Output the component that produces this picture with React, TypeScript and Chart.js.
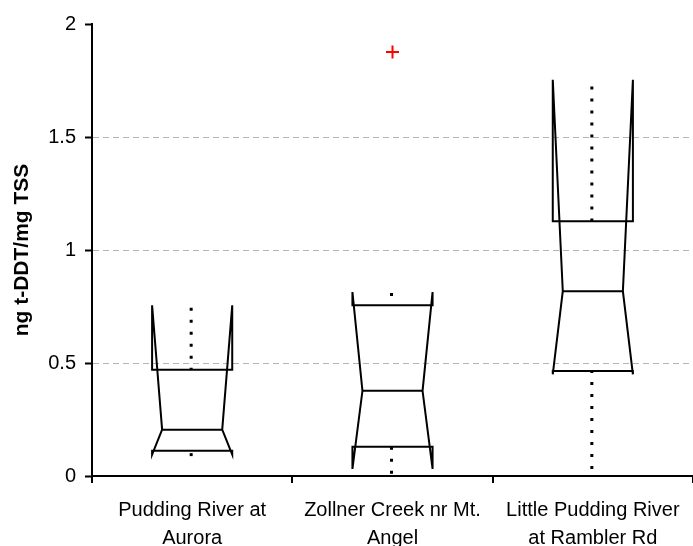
import React, { useEffect, useRef } from "react";
import { Chart, registerables } from "chart.js";

Chart.register(...registerables);

const categories: string[][] = [
  ["Pudding River at", "Aurora"],
  ["Zollner Creek nr Mt.", "Angel"],
  ["Little Pudding River", "at Rambler Rd"],
];
const whiskerLow = [0.088, 0.01, 0.031];
const q1 = [0.112, 0.129, 0.465];
const median = [0.205, 0.377, 0.818];
const q3 = [0.47, 0.756, 1.127];
const whiskerHigh = [0.745, 0.81, 1.723];
const notchLow = [0.095, 0.031, 0.45];
const notchHigh = [0.755, 0.814, 1.753];
const outliers = [null, 1.876, null];
const yTicks = [0, 0.5, 1, 1.5, 2];
const yTitle = "ng t-DDT/mg TSS";

const FONT = "'Liberation Sans', Arial, sans-serif";

const boxPlugin = {
  id: "notchedBoxes",
  beforeDatasetsDraw(chart: any) {
    const ctx = chart.ctx;
    const xs = chart.scales.x;
    const ys = chart.scales.y;
    const cw = xs.getPixelForValue(1) - xs.getPixelForValue(0);
    const hw = cw * 0.2;
    const nw = cw * 0.15;
    const Y = (v: number) => ys.getPixelForValue(v);
    ctx.save();
    for (let i = 0; i < categories.length; i++) {
      const cx = xs.getPixelForValue(i);
      ctx.strokeStyle = "#000";
      ctx.lineWidth = 2;
      ctx.setLineDash([]);
      ctx.lineJoin = "miter";
      ctx.beginPath();
      ctx.moveTo(cx - hw, Y(q1[i]));
      ctx.lineTo(cx - hw, Y(notchLow[i]));
      ctx.lineTo(cx - nw, Y(median[i]));
      ctx.lineTo(cx - hw, Y(notchHigh[i]));
      ctx.lineTo(cx - hw, Y(q3[i]));
      ctx.lineTo(cx + hw, Y(q3[i]));
      ctx.lineTo(cx + hw, Y(notchHigh[i]));
      ctx.lineTo(cx + nw, Y(median[i]));
      ctx.lineTo(cx + hw, Y(notchLow[i]));
      ctx.lineTo(cx + hw, Y(q1[i]));
      ctx.closePath();
      ctx.stroke();
      ctx.beginPath();
      ctx.moveTo(cx - nw, Y(median[i]));
      ctx.lineTo(cx + nw, Y(median[i]));
      ctx.stroke();
      // whiskers
      ctx.lineWidth = 3;
      ctx.setLineDash([3, 9]);
      ctx.lineCap = "butt";
      ctx.beginPath();
      ctx.moveTo(cx - 1, Y(whiskerHigh[i]));
      ctx.lineTo(cx - 1, Y(q3[i]));
      ctx.stroke();
      ctx.beginPath();
      ctx.moveTo(cx - 1, Y(whiskerLow[i]));
      ctx.lineTo(cx - 1, Y(q1[i]));
      ctx.stroke();
    }
    ctx.restore();
  },
};

export default function App() {
  const ref = useRef<HTMLCanvasElement>(null);
  useEffect(() => {
    const chart = new Chart(ref.current as HTMLCanvasElement, {
      type: "line",
      data: {
        labels: categories as any,
        datasets: [
          {
            data: outliers as any,
            showLine: false,
            pointStyle: "cross",
            pointRadius: (c: any) => (c.raw == null ? 0 : 6.5),
            pointBorderWidth: (c: any) => (c.raw == null ? 0 : 2),
            borderWidth: 0,
            pointBorderColor: "#ff0000",
            pointBackgroundColor: "#ff0000",
            borderColor: "#ff0000",
          },
        ],
      },
      options: {
        animation: false,
        responsive: false,
        devicePixelRatio: 1,
        layout: { padding: { top: 24, right: -2, bottom: 0, left: 0 } },
        plugins: { legend: { display: false }, tooltip: { enabled: false } },
        scales: {
          x: {
            type: "category",
            offset: true,
            grid: {
              offset: true,
              drawOnChartArea: false,
              drawTicks: true,
              tickLength: 7,
              tickColor: "#000",
              tickWidth: 2,
              lineWidth: 2,
              color: "#000",
            },
            border: { display: true, color: "#000", width: 2 },
            ticks: {
              color: "#000",
              font: { family: FONT, size: 20, lineHeight: 1.4 },
              padding: 13,
              maxRotation: 0,
              autoSkip: false,
            },
            afterFit: (s: any) => {
              s.height = 70;
              s.paddingLeft = 0;
              s.paddingRight = 0;
            },
          },
          y: {
            min: 0,
            max: 2,
            afterBuildTicks: (s: any) => {
              s.ticks = yTicks.map((v) => ({ value: v }));
            },
            grid: {
              drawTicks: true,
              tickLength: 7,
              tickColor: "#000",
              tickWidth: 2,
              tickBorderDash: [],
              lineWidth: 1,
              color: (c: any) =>
                c.tick && (c.tick.value === 0 || c.tick.value === 2)
                  ? "rgba(0,0,0,0)"
                  : "#b4b4b4",
            },
            border: { display: true, color: "#000", width: 2, dash: [6, 4] },
            ticks: {
              color: "#000",
              font: { family: FONT, size: 20 },
              padding: 9,
              callback: (v: any) => String(v),
            },
            title: {
              display: true,
              text: yTitle,
              color: "#000",
              font: { family: FONT, size: 21, weight: "bold" },
              padding: { top: 10, bottom: 0 },
            },
            afterFit: (s: any) => {
              s.width = 92;
            },
          },
        },
      },
      plugins: [boxPlugin],
    });
    return () => chart.destroy();
  }, []);
  return (
    <div style={{ position: "absolute", left: 0, top: 0, width: 693, height: 546, background: "#fff" }}>
      <canvas ref={ref} width={693} height={546} style={{ width: 693, height: 546, display: "block" }} />
    </div>
  );
}
